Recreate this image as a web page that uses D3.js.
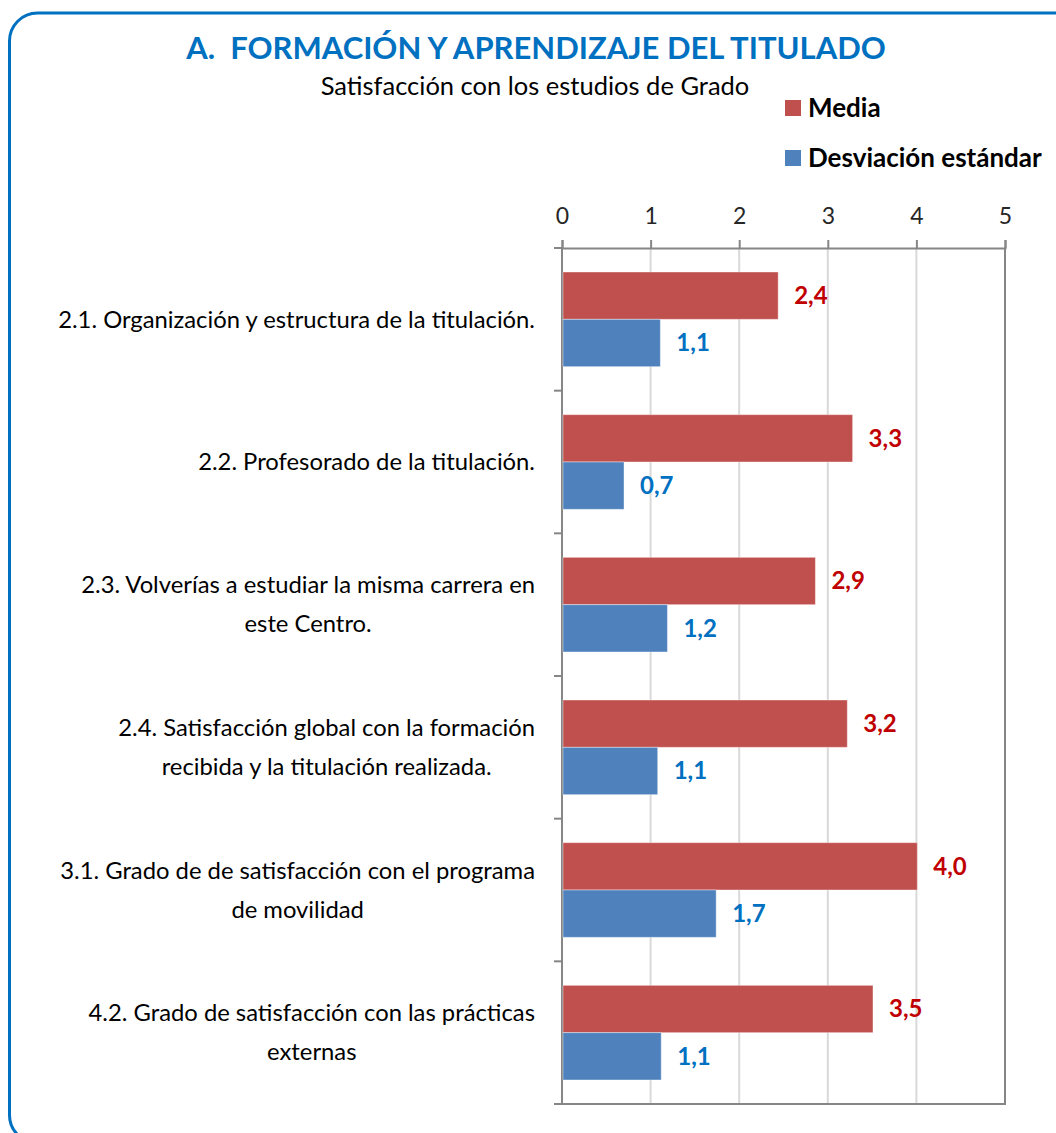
<!DOCTYPE html>
<html>
<head>
<meta charset="utf-8">
<script src="https://cdn.jsdelivr.net/npm/d3@7"></script>
<style>
  body { margin: 0; background: #fff; }
  text { font-family: Lato, "Open Sans", sans-serif; }
</style>
</head>
<body>
<svg width="1056" height="1133"></svg>
<script>
const categories = [
    ["2.1. Organización y estructura de la titulación."],
    ["2.2. Profesorado de la titulación."],
    ["2.3. Volverías a estudiar la misma carrera en", "este Centro."],
    ["2.4. Satisfacción global con la formación", "recibida y la titulación realizada."],
    ["3.1. Grado de de satisfacción con el programa", "de movilidad"],
    ["4.2. Grado de satisfacción con las prácticas", "externas"]
]
const media = [2.44, 3.28, 2.86, 3.22, 4.01, 3.51]
const desviacion = [1.11, 0.70, 1.19, 1.08, 1.74, 1.12]
const ticks = [0, 1, 2, 3, 4, 5]
const seriesNames = ["Media", "Desviación estándar"]

let svg = d3.select("svg"),
    margin = {top: 248, right: 51, bottom: 29, left: 562},
    width = +svg.attr("width") - margin.left - margin.right,
    height = +svg.attr("height") - margin.top - margin.bottom

const barColors = ["#c0504d", "#4f81bd"]
const labelColors = ["#c00000", "#0070c0"]
const fmt = v => d3.format(".1f")(v).replace(".", ",")

// outer frame
svg.append("rect")
    .attr("x", 9.5).attr("y", 13)
    .attr("width", 1100).attr("height", 1130)
    .attr("rx", 28)
    .attr("fill", "none")
    .attr("stroke", "#0070c0")
    .attr("stroke-width", 3)

svg.append("text")
    .attr("x", 536).attr("y", 59)
    .attr("text-anchor", "middle")
    .style("font-size", "31px").style("font-weight", "bold")
    .style("fill", "#0070c0")
    .style("white-space", "pre")
    .text("A.  FORMACIÓN Y APRENDIZAJE DEL TITULADO")

svg.append("text")
    .attr("x", 535).attr("y", 95)
    .attr("text-anchor", "middle")
    .style("font-size", "25.5px")
    .style("fill", "#000")
    .text("Satisfacción con los estudios de Grado")

// legend
let legend = svg.append("g")
seriesNames.forEach(function (name, i) {
    legend.append("rect")
        .attr("x", 785).attr("y", 100 + i * 50)
        .attr("width", 16).attr("height", 16)
        .attr("fill", barColors[i])
    legend.append("text")
        .attr("x", 808).attr("y", 108 + i * 50)
        .attr("dy", "0.35em")
        .style("font-size", "26px").style("font-weight", "bold")
        .text(name)
})

let g = svg.append("g").attr("transform", "translate(" + margin.left + "," + margin.top + ")")

let x = d3.scaleLinear().domain([0, 5]).range([0, width])
let y = d3.scaleBand().domain(d3.range(categories.length)).range([0, height])
let inner = d3.scaleBand().domain([0, 1]).range([24, y.bandwidth() - 24])

// gridlines
g.selectAll(".grid")
    .data(ticks.slice(1, -1))
    .enter()
    .append("line")
    .attr("x1", d => x(d)).attr("x2", d => x(d))
    .attr("y1", 0).attr("y2", height)
    .attr("stroke", "#d9d9d9")
    .attr("stroke-width", 2)

// plot border (right and bottom)
g.append("path")
    .attr("d", "M" + width + ",0V" + height + "H0")
    .attr("fill", "none")
    .attr("stroke", "#868686")
    .attr("stroke-width", 2)

// top axis
let xAxis = g.append("g")
    .call(d3.axisTop(x).tickValues(ticks).tickFormat(d3.format("d")).tickSize(8).tickPadding(16))
xAxis.select(".domain").attr("stroke", "#868686").attr("stroke-width", 2)
xAxis.selectAll(".tick line").attr("stroke", "#868686").attr("stroke-width", 2)
xAxis.selectAll(".tick text")
    .style("font-size", "23px")
    .style("font-family", "Lato, sans-serif")
    .style("fill", "#262626")

// left axis category ticks
let bounds = d3.range(categories.length + 1)
g.selectAll(".ytick")
    .data(bounds)
    .enter()
    .append("line")
    .attr("x1", -8).attr("x2", 0)
    .attr("y1", d => d * y.step()).attr("y2", d => d * y.step())
    .attr("stroke", "#868686")
    .attr("stroke-width", 2)
g.append("line")
    .attr("x1", 0).attr("x2", 0)
    .attr("y1", 0).attr("y2", height)
    .attr("stroke", "#868686")
    .attr("stroke-width", 2)

// bars
const series = [media, desviacion]
series.forEach(function (vals, s) {
    g.selectAll(".bar" + s)
        .data(vals)
        .enter()
        .append("rect")
        .attr("x", 1)
        .attr("y", (d, i) => y(i) + inner(s))
        .attr("width", d => x(d) - 1)
        .attr("height", inner.bandwidth())
        .attr("fill", barColors[s])
        .attr("stroke", "#fff")
        .attr("stroke-opacity", 0.4)
        .attr("stroke-width", 1)

    g.selectAll(".val" + s)
        .data(vals)
        .enter()
        .append("text")
        .attr("x", d => x(d) + 16)
        .attr("y", (d, i) => y(i) + inner(s) + inner.bandwidth() / 2)
        .attr("dy", "0.35em")
        .style("font-size", "24px").style("font-weight", "bold")
        .style("fill", labelColors[s])
        .text(d => fmt(d))
})

// category labels, right-aligned block with centred lines
categories.forEach(function (lines, i) {
    let t = svg.append("text")
        .style("font-size", "23.8px")
        .style("fill", "#000")
    let cy = margin.top + y(i) + y.bandwidth() / 2
    let lh = 39
    lines.forEach(function (line, j) {
        t.append("tspan")
            .attr("y", cy + (j - (lines.length - 1) / 2) * lh)
            .attr("dy", "0.35em")
            .text(line)
    })
    let maxW = d3.max(t.selectAll("tspan").nodes(), n => n.getComputedTextLength())
    t.attr("text-anchor", "middle")
    t.selectAll("tspan").attr("x", 535 - maxW / 2)
})
</script>
</body>
</html>
